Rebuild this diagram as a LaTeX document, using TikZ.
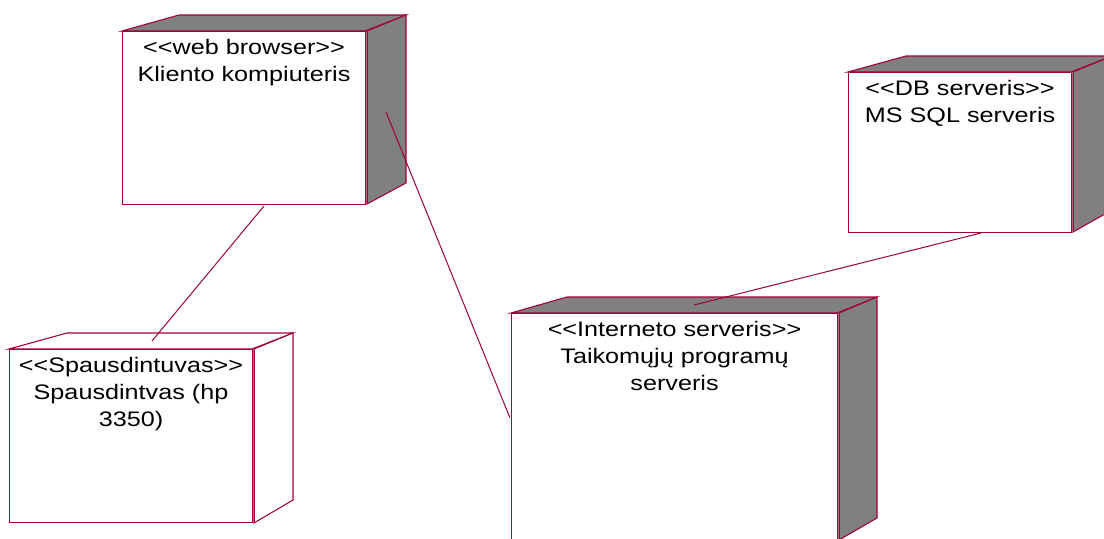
\documentclass[tikz,border=0pt]{standalone}
\usepackage{fontspec}
\newfontfamily\labelfont{Liberation Sans}[FakeStretch=1.2]
\definecolor{nodeline}{RGB}{160,0,60}
\definecolor{shade}{RGB}{128,128,128}
\begin{document}
\begin{tikzpicture}[x=0.75pt,y=-0.75pt,
  frontface/.style={draw=nodeline, line width=0.8pt, fill=white, rectangle,
    inner sep=0pt, anchor=north west},
  darkface/.style={draw=nodeline, fill=shade, line width=0.8pt, line join=miter},
  lightface/.style={draw=nodeline, fill=white, line width=0.8pt, line join=miter},
  rim/.style={draw=nodeline, line width=0.6pt},
  caption/.style={font=\labelfont\fontsize{15.75pt}{20.25pt}\selectfont,
    align=center, anchor=north, inner sep=0pt, text=black},
  link/.style={draw=nodeline, line width=0.75pt}]
\useasboundingbox (0,0) rectangle (1104,539);
\fill[white] (0,0) rectangle (1104,539);
\clip (0,0) rectangle (1104,539);

% --- client computer ---
\path[darkface] (122,31) -- (179,15) -- (406,15) -- (365,31) -- cycle;
\path[darkface] (367,31) -- (406,15) -- (406,183) -- (367,204) -- cycle;
\node[frontface, minimum width=182.25pt, minimum height=129.75pt] (client) at (122,31) {};
\draw[rim] (367,31) -- (367,204);
\node[caption] (clientlbl) at ([yshift=-6.3pt]client.north) {<{}<web browser>{}>\\Kliento kompiuteris};

% --- database server ---
\path[darkface] (848,72) -- (906,56) -- (1112,56) -- (1071,72) -- cycle;
\path[darkface] (1073,72) -- (1112,56) -- (1112,210) -- (1073,232) -- cycle;
\node[frontface, minimum width=167.25pt, minimum height=120pt] (db) at (848,72) {};
\draw[rim] (1073,72) -- (1073,232);
\node[caption] (dblbl) at ([yshift=-6.3pt]db.north) {<{}<DB serveris>{}>\\MS SQL serveris};

% --- printer ---
\path[lightface] (9,349) -- (67,333) -- (293,333) -- (252,349) -- cycle;
\path[lightface] (254,349) -- (293,333) -- (293,500) -- (254,523) -- cycle;
\node[frontface, minimum width=182.25pt, minimum height=129.75pt] (printer) at (9,349) {};
\draw[rim] (254,349) -- (254,522);
\node[caption] (printerlbl) at ([yshift=-6.3pt]printer.north) {<{}<Spausdintuvas>{}>\\Spausdintvas (hp\\3350)};

% --- application server ---
\path[darkface] (511,313) -- (567,297) -- (877,297) -- (837,313) -- cycle;
\path[darkface] (839,313) -- (877,297) -- (877,518) -- (839,540) -- cycle;
\node[frontface, minimum width=244.5pt, minimum height=187.5pt] (app) at (511,313) {};
\draw[rim] (839,313) -- (839,560);
\node[caption] (applbl) at ([yshift=-6.3pt]app.north) {<{}<Interneto serveris>{}>\\Taikomųjų programų\\serveris};

% --- connector end points ---
\coordinate (clientBottom) at (264,206);
\coordinate (printerTop) at (152,341);
\coordinate (clientSide) at (386,112);
\coordinate (appLeft) at (510,418);
\coordinate (dbBottom) at (981,233);
\coordinate (appTop) at (694,305);

\draw[link] (clientBottom) -- (printerTop);
\draw[link] (clientSide) -- (appLeft);
\draw[link] (dbBottom) -- (appTop);
\end{tikzpicture}
\end{document}
